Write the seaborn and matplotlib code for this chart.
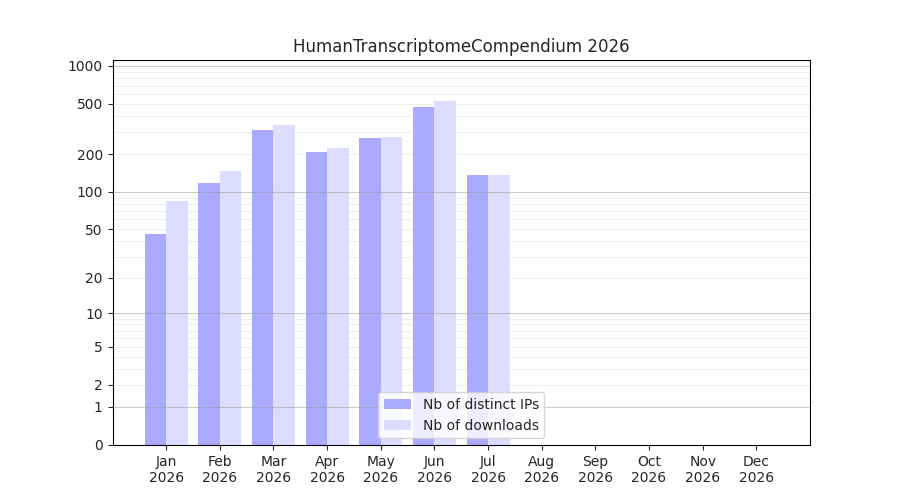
import numpy as np
import pandas as pd
import matplotlib
matplotlib.use("Agg")
import matplotlib.pyplot as plt
import seaborn as sns

months = ["Jan", "Feb", "Mar", "Apr", "May", "Jun", "Jul", "Aug", "Sep", "Oct", "Nov", "Dec"]
year = "2026"
distinct_ips = [46, 117, 310, 207, 267, 472, 135]
downloads = [85, 146, 339, 222, 272, 527, 135]
series_names = ["Nb of distinct IPs", "Nb of downloads"]
ytick_values = [0, 1, 2, 5, 10, 20, 50, 100, 200, 500, 1000]

rows = []
for i, v in enumerate(distinct_ips):
    rows.append({"month": i, "value": v, "series": series_names[0]})
for i, v in enumerate(downloads):
    rows.append({"month": i, "value": v, "series": series_names[1]})
df = pd.DataFrame(rows)

sns.set_style("white")
plt.rcParams["font.family"] = ["DejaVu Sans"]

fig, ax = plt.subplots(figsize=(9, 5), dpi=100)


def fwd(y):
    return np.log10(1 + np.maximum(y, 0))


def inv(y):
    return 10 ** y - 1


ax.set_yscale("function", functions=(fwd, inv))

palette = {series_names[0]: (170 / 255, 170 / 255, 1.0),
           series_names[1]: (221 / 255, 221 / 255, 1.0)}
sns.barplot(data=df, x="month", y="value", hue="series", palette=palette,
            native_scale=True, dodge=True, width=0.8, ax=ax, errorbar=None,
            saturation=1, zorder=2, linewidth=0, edgecolor="none")

# grid lines
minor_vals = []
for dec in [1, 10, 100]:
    for k in range(2, 10):
        minor_vals.append(k * dec)
for v in minor_vals:
    ax.axhline(v, color="#eeeeee", lw=0.8, zorder=1)
for v in [1, 10, 100, 1000]:
    ax.axhline(v, color="#999999", lw=0.8, zorder=3, alpha=0.5)

ax.set_yticks(ytick_values)
ax.set_yticklabels([str(v) for v in ytick_values])
ax.yaxis.set_minor_locator(matplotlib.ticker.NullLocator())
ax.set_ylim(0, 1115)

ax.set_xticks(range(len(months)))
ax.set_xticklabels([f"{m}\n{year}" for m in months])
ax.set_xlim(-1, 12)
ax.set_xlabel("")
ax.set_ylabel("")
ax.tick_params(axis="both", which="major", length=3.5, width=0.8, labelsize=10,
               direction="out", left=True, bottom=True)
for s in ax.spines.values():
    s.set_visible(True)
    s.set_color("black")
    s.set_linewidth(0.8)

ax.set_title("HumanTranscriptomeCompendium 2026", fontsize=12)
leg = ax.legend(loc="lower center", fontsize=10, frameon=True)
leg.get_frame().set_edgecolor("#cccccc")

plt.subplots_adjust(left=0.125, right=0.9, top=0.88, bottom=0.11)
fig.savefig("out.png", dpi=100)
